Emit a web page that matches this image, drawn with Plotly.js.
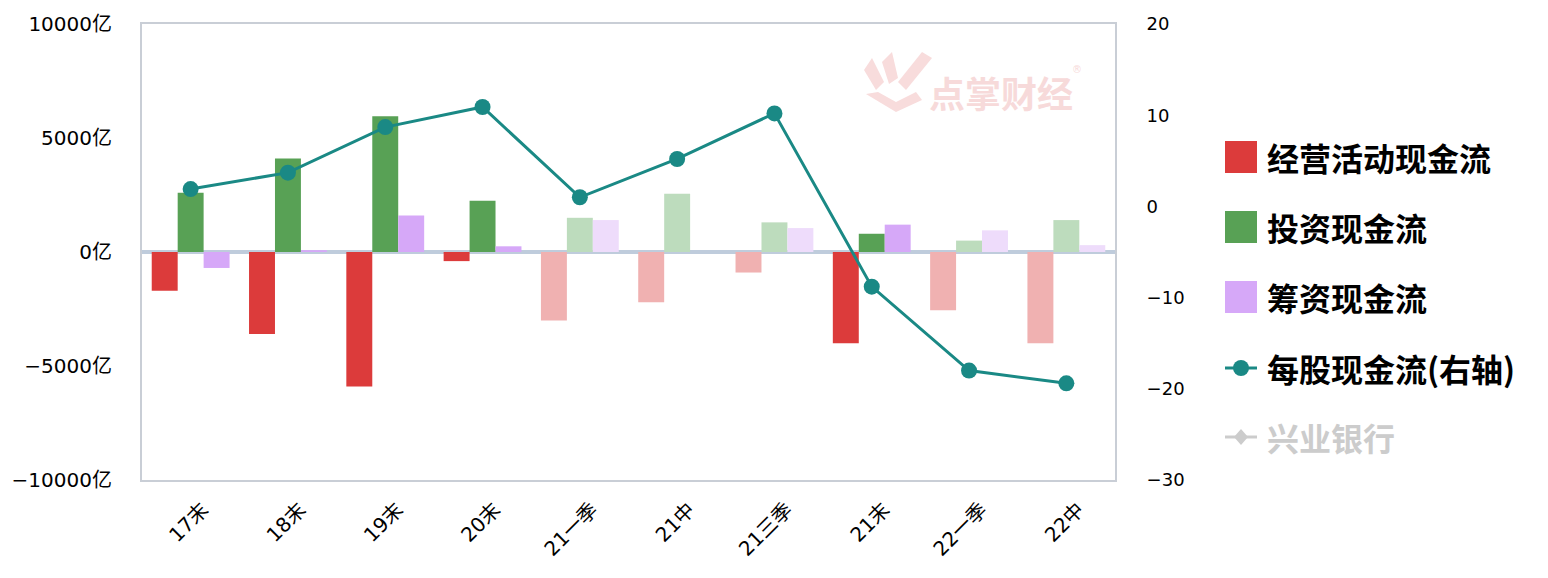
<!DOCTYPE html>
<html><head><meta charset="utf-8">
<script src="https://cdn.plot.ly/plotly-3.0.1.min.js"></script>
<style>html,body{margin:0;padding:0;background:#fff}#c{width:1548px;height:578px}</style>
</head><body><div id="c"></div>
<script>
const categories = ['17末','18末','19末','20末','21一季','21中','21三季','21末','22一季','22中'];
const operating = [-1700,-3600,-5900,-400,-3000,-2200,-900,-4000,-2550,-4000];
const investing = [2600,4100,5950,2250,1500,2550,1300,800,500,1400];
const financing = [-700,80,1600,250,1400,0,1050,1200,950,300];
const perShare = [1.9,3.7,8.7,10.9,1.0,5.2,10.2,-8.8,-18.0,-19.4];
const annual = [true,true,true,true,false,false,false,true,false,false];
const leftTicks = [-10000,-5000,0,5000,10000];
const leftTickText = ['\u221210000亿','\u22125000亿','0亿','5000亿','10000亿'];
const rightTicks = [-30,-20,-10,0,10,20];
const legendNames = ['经营活动现金流','投资现金流','筹资现金流','每股现金流(右轴)','兴业银行'];

const full = {op:'#DC3B3B', inv:'#58A155', fin:'#D6A8F8'};
const faded = {op:'#F0B1B1', inv:'#BDDCBD', fin:'#EEDCFB'};
const col = (k)=>annual.map(a=>a?full[k]:faded[k]);

const font = 'DejaVu Sans, "Noto Sans CJK SC", sans-serif';
const cjk = '"Noto Sans CJK SC", sans-serif';

const traces = [
 {type:'bar', x:categories, y:operating, name:legendNames[0], marker:{color:col('op')}},
 {type:'bar', x:categories, y:investing, name:legendNames[1], marker:{color:col('inv')}},
 {type:'bar', x:categories, y:financing, name:legendNames[2], marker:{color:col('fin')}},
 {type:'scatter', mode:'lines+markers', x:categories, y:perShare, yaxis:'y2', name:legendNames[3],
  line:{color:'#1A8985', width:3}, marker:{color:'#1A8985', size:16}}
];

// plot area in px: x 142..1115, y 24..480
const PX0=142, PW=973, PY0=24, PH=456;
const px=(x)=>(x-PX0)/PW, py=(y)=>(480-y)/PH;

const shapes=[], annotations=[];
const legY=[157,227,297,368,437];
const legCol=[full.op, full.inv, full.fin];
for(let i=0;i<3;i++){
  shapes.push({type:'rect', xref:'paper', yref:'paper', x0:px(1225), x1:px(1257), y0:py(legY[i]+16), y1:py(legY[i]-16), fillcolor:legCol[i], line:{width:0}});
}
shapes.push({type:'line', xref:'paper', yref:'paper', x0:px(1225), x1:px(1257), y0:py(legY[3]), y1:py(legY[3]), line:{color:'#1A8985', width:3}});
shapes.push({type:'circle', xref:'paper', yref:'paper', x0:px(1233), x1:px(1249), y0:py(legY[3]+8), y1:py(legY[3]-8), fillcolor:'#1A8985', line:{width:0}});
shapes.push({type:'line', xref:'paper', yref:'paper', x0:px(1225), x1:px(1257), y0:py(legY[4]), y1:py(legY[4]), line:{color:'#CCCCCC', width:3}});
shapes.push({type:'path', xref:'paper', yref:'paper',
  path:`M ${px(1241)} ${py(legY[4]-8)} L ${px(1248)} ${py(legY[4])} L ${px(1241)} ${py(legY[4]+8)} L ${px(1234)} ${py(legY[4])} Z`,
  fillcolor:'#CCCCCC', line:{width:0}});
for(let i=0;i<5;i++){
  annotations.push({xref:'paper', yref:'paper', x:px(1265), y:py(legY[i]), xanchor:'left', yanchor:'middle', showarrow:false,
    text:'<b>'+legendNames[i]+'</b>', font:{family:cjk, size:32, color: i===4?'#CCCCCC':'#000000'}});
}
// watermark
annotations.push({xref:'paper', yref:'paper', x:px(1001), y:py(92), xanchor:'center', yanchor:'middle', showarrow:false,
  text:'<b>点掌财经</b>', font:{family:cjk, size:36, color:'#F7DADA'}});
annotations.push({xref:'paper', yref:'paper', x:px(1084), y:py(62), showarrow:false, text:'®', font:{family:font, size:10, color:'#F7DADA'}});
const wm='#F8DCDC';
shapes.push({type:'path', xref:'paper', yref:'paper', fillcolor:wm, line:{width:0},
  path:`M ${px(864)} ${py(70)} L ${px(872)} ${py(58)} L ${px(884)} ${py(82)} L ${px(876)} ${py(90)} Z`});
shapes.push({type:'path', xref:'paper', yref:'paper', fillcolor:wm, line:{width:0},
  path:`M ${px(882)} ${py(62)} L ${px(892)} ${py(52)} L ${px(898)} ${py(78)} L ${px(889)} ${py(84)} Z`});
shapes.push({type:'path', xref:'paper', yref:'paper', fillcolor:wm, line:{width:0},
  path:`M ${px(898)} ${py(82)} L ${px(922)} ${py(52)} L ${px(932)} ${py(58)} L ${px(906)} ${py(90)} Z`});
shapes.push({type:'path', xref:'paper', yref:'paper', fillcolor:wm, line:{width:0},
  path:`M ${px(866)} ${py(94)} L ${px(878)} ${py(92)} L ${px(896)} ${py(102)} L ${px(916)} ${py(92)} L ${px(922)} ${py(100)} L ${px(896)} ${py(112)} Z`});

const layout = {
  width:1548, height:578,
  margin:{l:142, r:433, t:24, b:98},
  paper_bgcolor:'#fff', plot_bgcolor:'#fff',
  showlegend:false,
  barmode:'group', bargap:0.2, bargroupgap:0,
  font:{family:font, size:18, color:'#000'},
  xaxis:{type:'category', range:[-0.5, categories.length-0.5], tickangle:-45, tickfont:{family:font, size:20, color:'#000'},
    ticklabelshift:12,
    showline:true, mirror:true, linecolor:'#C9CED6', linewidth:2, showgrid:false,
    ticks:'outside', ticklen:8, tickcolor:'rgba(0,0,0,0)'},
  yaxis:{range:[-10000,10000], tickvals:leftTicks, ticktext:leftTickText, showgrid:false,
    zeroline:true, zerolinecolor:'#BFCCDC', zerolinewidth:4, layer:'above traces',
    showline:true, linecolor:'#C9CED6', linewidth:2,
    ticks:'outside', ticklen:24, tickcolor:'rgba(0,0,0,0)', tickfont:{family:font, size:20, color:'#000'}},
  yaxis2:{range:[-30,20], tickvals:rightTicks, overlaying:'y', side:'right', showgrid:false, zeroline:false,
    showline:true, linecolor:'#C9CED6', linewidth:2,
    ticks:'outside', ticklen:26, tickcolor:'rgba(0,0,0,0)', tickfont:{family:font, size:18, color:'#000'}},
  shapes, annotations
};
Plotly.newPlot('c', traces, layout, {displayModeBar:false, staticPlot:true});
</script></body></html>
